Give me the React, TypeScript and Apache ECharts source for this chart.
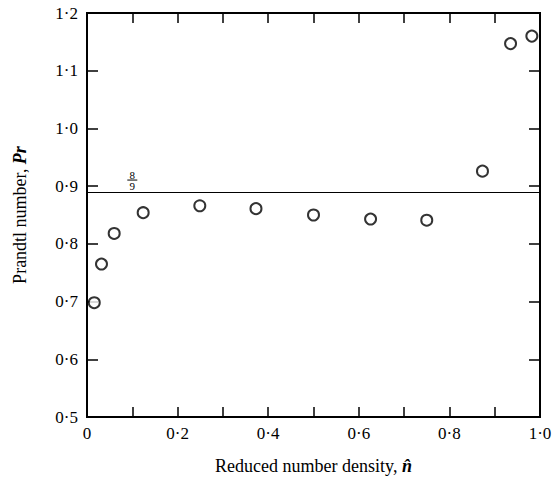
import React, { useEffect, useRef } from "react";
import * as echarts from "echarts";

const densityN = [0.016, 0.032, 0.06, 0.124, 0.249, 0.373, 0.5, 0.626, 0.75, 0.873, 0.935, 0.982];
const prandtlPr = [0.698, 0.765, 0.818, 0.854, 0.866, 0.861, 0.85, 0.843, 0.841, 0.926, 1.147, 1.16];
const referenceValue = 8 / 9;
const referenceLabelNum = "8";
const referenceLabelDen = "9";

const X_MIN = 0, X_MAX = 1, Y_MIN = 0.5, Y_MAX = 1.2;

const FONT = "Liberation Serif";

const fmt = (v: number) => {
  if (Math.abs(v) < 1e-9) return "0";
  return v.toFixed(1).replace(".", "·");
};

const mkLine = () => ({ show: true, onZero: false, lineStyle: { color: "#000", width: 2, opacity: 1 } });
const mkTick = (len: number) => ({ show: true, inside: true, length: len, lineStyle: { color: "#000", width: 1.5 } });

export default function App() {
  const ref = useRef<HTMLDivElement>(null);
  useEffect(() => {
    if (!ref.current) return;
    const chart = echarts.init(ref.current, null, { renderer: "svg" });
    chart.setOption({
      animation: false,
      backgroundColor: "#fff",
      textStyle: { fontFamily: FONT },
      grid: {
        left: 87,
        right: 16,
        top: 13,
        bottom: 67,
        containLabel: false,
        outerBoundsMode: "none",
        show: true,
        borderColor: "#000",
        borderWidth: 2,
        backgroundColor: "transparent",
      },
      xAxis: [
        {
          type: "value",
          min: X_MIN,
          max: X_MAX,
          interval: 0.1,
          position: "bottom",
          axisLine: mkLine(),
          axisTick: mkTick(10),
          splitLine: { show: false },
          axisLabel: {
            color: "#000",
            fontSize: 17,
            fontFamily: FONT,
            margin: 8,
            formatter: (v: number) => (Math.round(v * 10) % 2 === 0 ? fmt(v) : ""),
          },
          name: "Reduced number density, {b|n̂}",
          nameLocation: "middle",
          nameGap: 40,
          nameTextStyle: {
            color: "#000",
            fontSize: 18,
            fontFamily: FONT,
            rich: { b: { fontSize: 18, fontWeight: "bold", fontStyle: "italic", fontFamily: FONT, color: "#000" } },
          },
        },
        {
          type: "value",
          min: X_MIN,
          max: X_MAX,
          interval: 0.1,
          position: "top",
          axisLine: mkLine(),
          axisTick: mkTick(10),
          splitLine: { show: false },
          axisLabel: { show: false },
        },
      ],
      yAxis: [
        {
          type: "value",
          min: Y_MIN,
          max: Y_MAX,
          interval: 0.1,
          position: "left",
          axisLine: mkLine(),
          axisTick: mkTick(11),
          splitLine: { show: false },
          axisLabel: { color: "#000", fontSize: 17, fontFamily: FONT, margin: 9, formatter: fmt },
          name: "Prandtl number, {b|Pr}",
          nameLocation: "middle",
          nameGap: 58,
          nameRotate: 90,
          nameTextStyle: {
            color: "#000",
            fontSize: 18,
            fontFamily: FONT,
            rich: { b: { fontSize: 18, fontWeight: "bold", fontStyle: "italic", fontFamily: FONT, color: "#000" } },
          },
        },
        {
          type: "value",
          min: Y_MIN,
          max: Y_MAX,
          interval: 0.1,
          position: "right",
          axisLine: mkLine(),
          axisTick: mkTick(11),
          splitLine: { show: false },
          axisLabel: { show: false },
        },
      ],
      series: [
        {
          type: "scatter",
          xAxisIndex: 0,
          yAxisIndex: 0,
          data: densityN.map((x, i) => [x, prandtlPr[i]]),
          symbol: "circle",
          symbolSize: 11,
          itemStyle: { color: "#fff", borderColor: "#000", borderWidth: 2 },
          z: 5,
          markLine: {
            silent: true,
            symbol: ["none", "none"],
            lineStyle: { color: "#000", width: 1.2, type: "solid" },
            label: { show: false },
            data: [{ yAxis: referenceValue }],
          },
        },
      ],
    });
    const pf = chart.convertToPixel({ gridIndex: 0 }, [0.1, referenceValue]) as number[];
    chart.setOption({
      graphic: [
        {
          type: "group",
          x: pf[0],
          y: pf[1] - 23,
          children: [
            { type: "text", x: 0, y: 0, style: { text: referenceLabelNum, fontSize: 11, fontFamily: FONT, fill: "#000", align: "center" } },
            { type: "line", shape: { x1: -5, y1: 10.5, x2: 5, y2: 10.5 }, style: { stroke: "#000", lineWidth: 1 } },
            { type: "text", x: 0, y: 11, style: { text: referenceLabelDen, fontSize: 11, fontFamily: FONT, fill: "#000", align: "center" } },
          ],
        },
      ],
    });
    return () => chart.dispose();
  }, []);
  return <div ref={ref} style={{ position: "absolute", left: 0, top: 0, width: 556, height: 484 }} />;
}
